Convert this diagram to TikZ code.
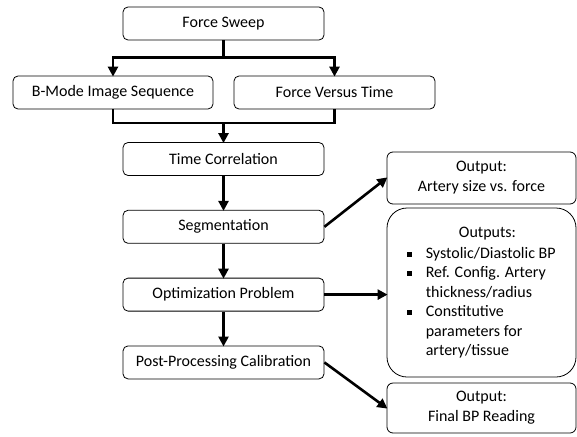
\documentclass[tikz,border=0pt]{standalone}
\usepackage{fontspec}
\setmainfont{Carlito}
\usetikzlibrary{arrows.meta, positioning}
\tikzset{
  stage/.style={draw, thick, rounded corners=5pt, minimum width=201pt, minimum height=33pt, inner sep=2pt},
  result/.style={draw, thick, rounded corners=6pt, minimum width=189pt, align=center},
  link/.style={line width=2.6pt},
  flow/.style={line width=2.6pt, -{Triangle[length=10pt, width=10pt]}, shorten >=-1pt}
}
\newcommand{\bul}{\rule[2pt]{4.5pt}{4.5pt}}

\begin{document}
\begin{tikzpicture}[x=1pt, y=-1pt, font=\fontsize{16}{20}\selectfont, node distance=34pt]
  \useasboundingbox (0,0) rectangle (577,436);

  % main column
  \node[stage] (sweep) at (223.5,23.5) {Force Sweep};
  \node[stage, minimum width=200pt] (bmode) at (113,92.5) {B-Mode Image Sequence};
  \node[stage] (fvt) at (334.5,92.5) {Force Versus Time};
  \node[stage] (tcorr) at (223.5,159) {Time Correlation};
  \node[stage, below=of tcorr] (seg) {Segmentation};
  \node[stage, below=of seg] (optim) {Optimization Problem};
  \node[stage, below=of optim] (post) {Post-Processing Calibration};

  % split and merge around the two data streams
  \coordinate (split) at ([yshift=-17pt]sweep.south);
  \coordinate (merge) at ([yshift=19pt]tcorr.north);
  \draw[link] (sweep.south) -- (split);
  \draw[flow] (split) -| (bmode.north);
  \draw[flow] (split) -| (fvt.north);
  \draw[link] (bmode.south) |- (merge) -| (fvt.south);
  \draw[flow] (merge) -- (tcorr);
  \draw[flow] (tcorr) -- (seg);
  \draw[flow] (seg) -- (optim);
  \draw[flow] (optim) -- (post);

  % outputs
  \node[result, minimum height=52pt] (sizeout) at (481.5,178) {Output:\\Artery size vs. force};
  \node[result, minimum height=169pt, rounded corners=20pt] (bpout) at (481.5,292.5) {%
    \renewcommand{\arraystretch}{0.97}%
    \begin{tabular}{@{}c@{\hspace{14pt}}l@{}}
      \multicolumn{2}{c}{\hspace{12pt}Outputs:}\\[2pt]
      \bul & Systolic/Diastolic BP\\
      \bul & Ref. Config. Artery\\
           & thickness/radius\\
      \bul & Constitutive\\
           & parameters for\\
           & artery/tissue
    \end{tabular}};
  \node[result, minimum height=50pt] (finalout) at (481.5,408) {Output:\\Final BP Reading};

  \draw[flow] (seg.east) -- (sizeout.west);
  \draw[flow] (optim.east) -- (optim.east -| bpout.west);
  \draw[flow] (post.east) -- (finalout.west);
\end{tikzpicture}
\end{document}
